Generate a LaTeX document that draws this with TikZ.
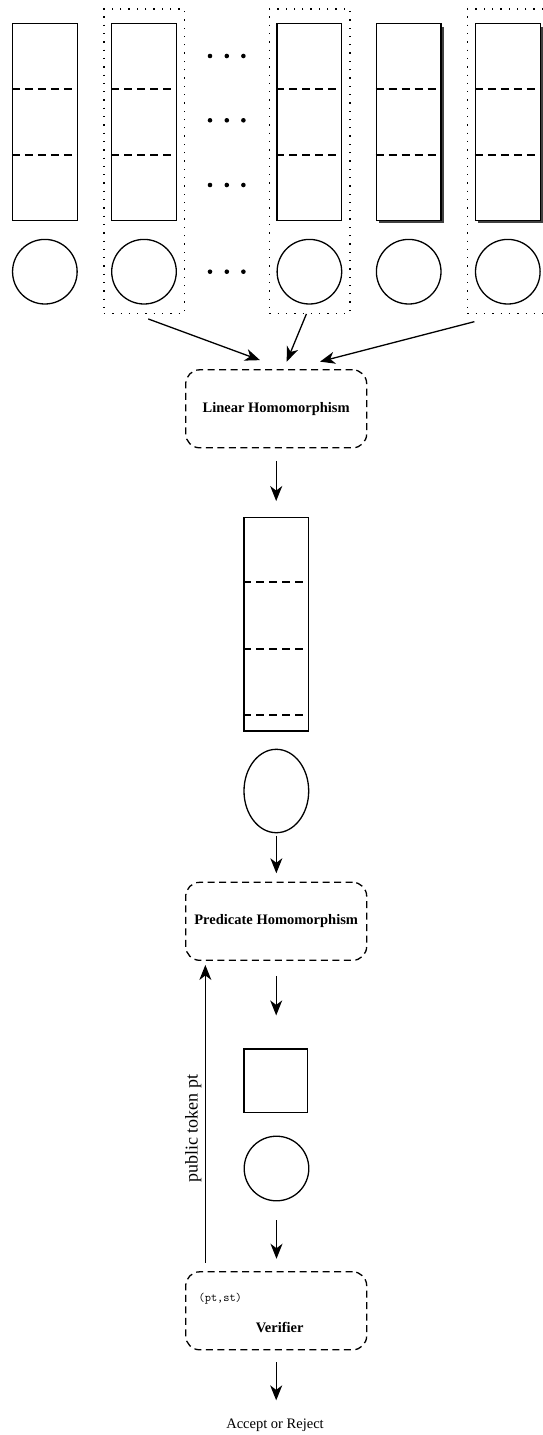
\documentclass[tikz,border=0pt]{standalone}
\usepackage{fontspec}
\setmainfont{Liberation Serif}
\usetikzlibrary{arrows.meta,calc,shadows,shapes.geometric}

\newcommand\stagefont{\fontsize{14.5}{17}\selectfont\bfseries}

\begin{document}
\begin{tikzpicture}[x=1pt,y=-1pt,
  line width=1.3pt,
  arr/.style={-{Stealth[length=15pt,width=12pt,inset=4.5pt]}, line width=1.3pt},
  cell/.style={draw, fill=white, minimum width=64.7pt, minimum height=196.6pt, inner sep=0pt},
  blob/.style={draw, circle, minimum size=64.6pt, inner sep=0pt},
  grp/.style={draw, dash pattern=on 1.3pt off 7pt, line width=1.3pt,
              minimum width=80.7pt, minimum height=304.3pt, inner sep=0pt},
  stage/.style={draw, dash pattern=on 7pt off 4.5pt, rounded corners=14pt,
                minimum width=181pt, minimum height=78pt, inner sep=0pt, font=\stagefont},
  div/.style={line width=1.3pt, dash pattern=on 8pt off 5pt},
  shade/.style={drop shadow={shadow xshift=3pt,shadow yshift=-3pt,fill=black!75,opacity=1}}
]
\useasboundingbox (0,0) rectangle (543,1435);

% grouped inputs
\node[grp] (g2) at (144.25,161.15) {};
\node[grp] (g3) at (309.7,161.15) {};
\node[grp] (g5) at (507.75,161.15) {};

% input vectors
\node[cell] (r1) at (44.85,122) {};
\node[cell] (r2) at (144,122) {};
\node[cell] (r3) at (309.4,122) {};
\node[cell,shade] (r4) at (408.7,122) {};
\node[cell,shade] (r5) at (507.8,122) {};
\foreach \r in {r1,r2,r3,r4,r5}{
  \draw[div] ($(\r.north west)+(0,65.8)$) -- ($(\r.north east)+(0,65.8)$);
  \draw[div] ($(\r.north west)+(0,131.8)$) -- ($(\r.north east)+(0,131.8)$);
}

% input commitments
\node[blob] (c1) at (44.85,271.7) {};
\node[blob] (c2) at (144,271.7) {};
\node[blob] (c3) at (309.4,271.7) {};
\node[blob] (c4) at (408.7,271.7) {};
\node[blob] (c5) at (507.8,271.7) {};

% ellipsis dots
\foreach \y in {56,120.3,185,271.7}
  \foreach \x in {210,226.8,243.4}
    \fill (\x,\y) circle[radius=2.3pt];

% pipeline
\node[stage] (lin) at (276.2,408.8) {Linear Homomorphism};
\node[cell, minimum height=213.7pt] (mid) at (276.35,624.15) {};
\foreach \d in {65.2,132.2,198.2}
  \draw[div] ($(mid.north west)+(0,\d)$) -- ($(mid.north east)+(0,\d)$);
\node[draw, ellipse, minimum width=64.7pt, minimum height=83.4pt, inner sep=0pt] (ell) at (276.35,791) {};
\node[stage] (pred) at (276.2,921.3) {Predicate Homomorphism};
\node[draw, minimum size=63.5pt, inner sep=0pt] (sq) at (275.7,1080.8) {};
\node[blob] (c6) at (276.5,1168.5) {};
\node[stage] (ver) at (276.2,1310.8) {};
\node[font=\fontsize{12}{14}\selectfont\ttfamily, anchor=west, inner sep=0pt] (tok) at (198,1298.3) {(pt,st)};
\node[font=\stagefont] (vlab) at (279.7,1327.7) {Verifier};
\node[font=\fontsize{14.5}{17}\selectfont, anchor=base, inner sep=0pt] (out) at (275,1428.9) {Accept or Reject};

% connectors
\draw[arr] ($(g2.south)+(4,5)$) -- ($(lin.north)+(-16.2,-9)$);
\draw[arr] ($(g3.south)+(-3.3,0)$) -- ($(lin.north)+(10.5,-7.5)$);
\draw[arr] ($(g5.south)+(-33.35,7.7)$) -- ($(lin.north)+(43.8,-7.5)$);

\draw[arr, shorten <=12.4pt, shorten >=15.6pt] (lin.south) -- (lin.south |- mid.north);
\draw[arr, shorten <=2.3pt, shorten >=8.4pt] (ell.south) -- (ell.south |- pred.north);
\draw[arr, shorten <=15pt, shorten >=33pt] (pred.south) -- (pred.south |- sq.north);
\draw[arr, shorten <=19pt, shorten >=12.4pt] (c6.south) -- (c6.south |- ver.north);
\draw[arr, shorten <=11.9pt, shorten >=18.3pt] (ver.south) -- (ver.south |- out.north);

\draw[arr] ($(ver.north west)+(20.3,-8.4)$) --
  node[pos=0.45, rotate=90, anchor=south, font=\fontsize{18}{20}\selectfont] (ptl) {public token pt}
  ($(pred.south west)+(20.3,4)$);
\end{tikzpicture}
\end{document}
